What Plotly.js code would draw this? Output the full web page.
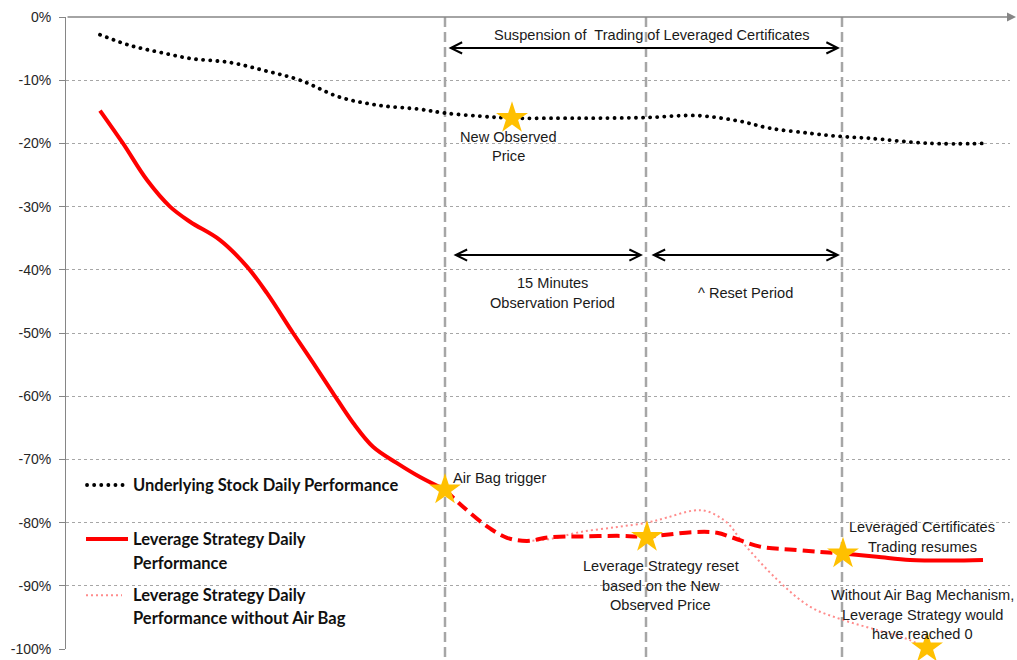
<!DOCTYPE html>
<html>
<head>
<meta charset="utf-8">
<script src="https://cdn.plot.ly/plotly-3.0.1.min.js"></script>
<style>
  html, body { margin: 0; padding: 0; background: #ffffff; }
  #chart { width: 1017px; height: 660px; }
</style>
</head>
<body>
<div id="chart"></div>
<script>
// ---- Data (x = time position, y = daily performance in %) ----
const underlyingX = [34, 64, 94, 126, 164, 199, 234, 274, 314, 354, 379, 414, 446, 494, 534, 581, 631, 671, 704, 744, 774, 804, 864, 919];
const underlyingY = [-2.8, -4.5, -5.6, -6.6, -7.2, -8.5, -10.0, -12.7, -14.0, -14.6, -15.2, -15.7, -16.0, -16.0, -16.0, -15.9, -15.6, -16.4, -17.6, -18.4, -18.9, -19.2, -20.0, -20.0];

const strategyBeforeX = [34, 57, 81, 104, 124, 154, 181, 201, 227, 247, 267, 287, 307, 331, 354, 379];
const strategyBeforeY = [-14.8, -20.0, -25.8, -30.0, -32.4, -35.3, -39.5, -43.7, -50.0, -54.7, -59.5, -64.2, -68.0, -70.6, -72.8, -74.8];

const strategySuspendedX = [379, 397, 421, 441, 461, 484, 514, 551, 581, 627, 651, 667, 694, 727, 777];
const strategySuspendedY = [-74.8, -77.5, -80.6, -82.4, -82.9, -82.3, -82.2, -82.1, -82.2, -81.5, -81.6, -82.4, -83.8, -84.3, -84.9];

const strategyAfterX = [777, 811, 844, 884, 917];
const strategyAfterY = [-84.9, -85.4, -85.9, -86.0, -85.9];

const noAirBagX = [461, 484, 514, 551, 581, 601, 627, 641, 661, 677, 711, 744, 777, 811, 844, 861];
const noAirBagY = [-82.9, -82.6, -81.5, -80.7, -80.0, -79.2, -78.1, -78.2, -80.0, -83.2, -89.0, -93.3, -95.4, -97.0, -98.6, -100.0];

const starX = [379, 446, 581, 777, 861];
const starY = [-74.8, -16.0, -82.3, -84.9, -99.8];

const eventX = [379, 580, 776]; // air bag trigger, reset, trading resumes

const tickVals = [0, -10, -20, -30, -40, -50, -60, -70, -80, -90, -100];
const tickText = ['0%', '-10%', '-20%', '-30%', '-40%', '-50%', '-60%', '-70%', '-80%', '-90%', '-100%'];

// ---- Styles ----
const RED = '#FF0000';
const PINK = '#FF8C8C';
const GOLD = '#FFC000';
const GRAY = '#A6A6A6';
const AXIS = '#868686';
const TXT = { family: 'Liberation Sans, Arial, sans-serif', size: 14.6, color: '#1a1a1a' };
const LEG = { family: 'Lato, Calibri, sans-serif', size: 16.5, color: '#111111' };
const DOTS = '0.1px,7px';

const traces = [
  { x: noAirBagX, y: noAirBagY, mode: 'lines', line: { color: PINK, width: 2, dash: '2px,3px', shape: 'spline', smoothing: 1 }, hoverinfo: 'skip' },
  { x: underlyingX, y: underlyingY, mode: 'lines', line: { color: '#000000', width: 3.8, dash: DOTS, shape: 'spline', smoothing: 1 }, hoverinfo: 'skip' },
  { x: strategyBeforeX, y: strategyBeforeY, mode: 'lines', line: { color: RED, width: 4, shape: 'spline', smoothing: 1 }, hoverinfo: 'skip' },
  { x: strategySuspendedX, y: strategySuspendedY, mode: 'lines', line: { color: RED, width: 4, dash: '12px,6px', shape: 'spline', smoothing: 1 }, hoverinfo: 'skip' },
  { x: strategyAfterX, y: strategyAfterY, mode: 'lines', line: { color: RED, width: 4, shape: 'spline', smoothing: 1 }, hoverinfo: 'skip' },
  { x: starX, y: starY, mode: 'markers', cliponaxis: false, marker: { symbol: 'star', size: 24, color: GOLD, line: { width: 0 } }, hoverinfo: 'skip' }
];

const shapes = eventX.map(function (x) {
  return { type: 'line', xref: 'x', yref: 'paper', x0: x, x1: x, y0: 1, y1: -0.018, line: { color: GRAY, width: 2.5, dash: '10px,5px' }, layer: 'below' };
});
// legend samples
shapes.push({ type: 'line', xref: 'x', yref: 'y', x0: 21, x1: 58, y0: -74.05, y1: -74.05, line: { color: '#000000', width: 3.8, dash: DOTS } });
shapes.push({ type: 'line', xref: 'x', yref: 'y', x0: 20, x1: 62, y0: -82.6, y1: -82.6, line: { color: RED, width: 4 } });
shapes.push({ type: 'line', xref: 'x', yref: 'y', x0: 20, x1: 56, y0: -91.5, y1: -91.5, line: { color: PINK, width: 2, dash: '2px,3px' } });

function txt(x, y, text, opts) {
  return Object.assign({ x: x, y: y, xref: 'x', yref: 'y', text: text, showarrow: false, xanchor: 'center', yanchor: 'middle', font: TXT }, opts || {});
}
function leg(y, text) {
  return txt(65, y, text, { xanchor: 'left', font: LEG });
}
function dbl(x0, x1, y) {
  return { x: x1, y: y, ax: x0, ay: y, xref: 'x', yref: 'y', axref: 'x', ayref: 'y', text: '', showarrow: true,
    arrowside: 'end+start', arrowhead: 5, startarrowhead: 5, arrowsize: 1.1, startarrowsize: 1.1, arrowwidth: 2, arrowcolor: '#000000', standoff: 0, startstandoff: 0 };
}

const annotations = [
  txt(586, -2.85, 'Suspension of\u00a0 Trading of Leveraged Certificates'),
  dbl(381, 774, -4.9),
  txt(442, -18.99, 'New Observed'),
  txt(442, -21.99, 'Price'),
  dbl(386, 577, -37.66),
  dbl(584, 774, -37.66),
  txt(486.5, -42.09, '15 Minutes'),
  txt(486.5, -45.25, 'Observation Period'),
  txt(679.5, -43.67, '^ Reset Period'),
  txt(385, -72.94, 'Air Bag trigger', { xanchor: 'left' }),
  txt(594.5, -86.87, 'Leverage Strategy reset'),
  txt(594.5, -90.03, 'based on the New'),
  txt(594.5, -93.04, 'Observed Price'),
  txt(856, -80.70, 'Leveraged Certificates'),
  txt(856, -83.86, 'Trading resumes'),
  txt(856, -91.46, 'Without Air Bag Mechanism,'),
  txt(856, -94.62, 'Leverage Strategy would'),
  txt(856, -97.63, 'have reached 0'),
  leg(-74.05, '<b>Underlying Stock Daily Performance</b>'),
  leg(-82.59, '<b>Leverage Strategy Daily</b>'),
  leg(-86.39, '<b>Performance</b>'),
  leg(-91.46, '<b>Leverage Strategy Daily</b>'),
  leg(-95.09, '<b>Performance without Air Bag</b>'),
  // top axis line with arrow
  { x: 1.0064, y: 1, xref: 'paper', yref: 'paper', ax: -950, ay: 0, axref: 'pixel', ayref: 'pixel', text: '', showarrow: true,
    arrowhead: 2, arrowsize: 1.2, arrowwidth: 1.5, arrowcolor: AXIS, standoff: 0 }
];

const layout = {
  width: 1017, height: 660,
  margin: { l: 66, r: 7, t: 17, b: 11 },
  paper_bgcolor: '#ffffff', plot_bgcolor: '#ffffff',
  showlegend: false,
  xaxis: { range: [0, 944], showgrid: false, zeroline: false, showticklabels: false, ticks: '', showline: false, fixedrange: true },
  yaxis: {
    range: [-100, 0], tickvals: tickVals, ticktext: tickText, showgrid: true, gridcolor: GRAY, gridwidth: 1, griddash: 'dot',
    zeroline: false, showline: true, linecolor: AXIS, linewidth: 1, ticks: 'outside', ticklen: 6, tickcolor: AXIS,
    tickfont: { family: 'Liberation Sans, Arial, sans-serif', size: 14, color: '#262626' }, ticklabelstandoff: 5, fixedrange: true
  },
  shapes: shapes,
  annotations: annotations
};

Plotly.newPlot('chart', traces, layout, { displayModeBar: false, staticPlot: true }).then(function (gd) {
  // round caps so the dotted underlying-stock line draws round dots
  var paths = gd.querySelectorAll('.scatterlayer .trace path.js-line, .shapelayer path');
  paths.forEach(function (p) {
    var da = p.style.strokeDasharray || '';
    if (da.indexOf('0.1') === 0) p.style.strokeLinecap = 'round';
  });
});
</script>
</body>
</html>
